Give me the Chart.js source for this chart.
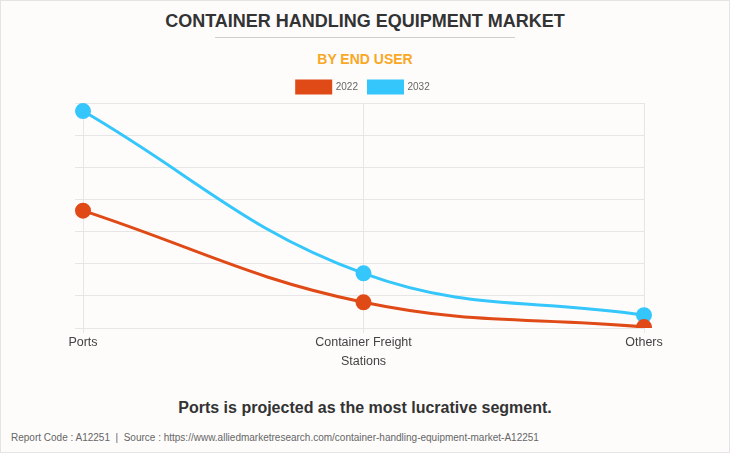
<!DOCTYPE html>
<html>
<head>
<meta charset="utf-8">
<script src="https://cdn.jsdelivr.net/npm/chart.js@4"></script>
<style>
    body { margin: 0; background: #fff; }
    #wrap {
        position: relative; width: 728px; height: 451px;
        background: #fdfcfb; border: 1px solid #e4e4e4;
        font-family: "Liberation Sans", Arial, sans-serif;
    }
    #title {
        position: absolute; top: 10px; left: 0; width: 100%; text-align: center;
        font-size: 18px; font-weight: bold; color: #333;
    }
    #rule { position: absolute; top: 36px; left: 214px; width: 300px; height: 1px; background: #cfcfcf; }
    #subtitle {
        position: absolute; top: 50px; left: 0; width: 100%; text-align: center;
        font-size: 14px; font-weight: bold; color: #f9a825;
    }
    #chartBox { position: absolute; left: 0; top: 75px; width: 730px; height: 305px; }
    #note {
        position: absolute; top: 398px; left: 0; width: 100%; text-align: center;
        font-size: 16px; font-weight: bold; color: #333;
    }
    #source { position: absolute; top: 431px; left: 10px; font-size: 10px; color: #666; }
</style>
</head>
<body>
<div id="wrap">
    <div id="title">CONTAINER HANDLING EQUIPMENT MARKET</div>
    <div id="rule"></div>
    <div id="subtitle">BY END USER</div>
    <div id="chartBox"><canvas id="endUserChart"></canvas></div>
    <div id="note">Ports is projected as the most lucrative segment.</div>
    <div id="source">Report Code : A12251&nbsp; |&nbsp; Source : https://www.alliedmarketresearch.com/container-handling-equipment-market-A12251</div>
</div>
<script>
const categories = [['Ports'], ['Container Freight', 'Stations'], ['Others']];
const values2022 = [3.65, 0.8, 0.03];
const values2032 = [6.75, 1.7, 0.4];

const ctx = document.getElementById('endUserChart').getContext('2d');
new Chart(ctx, {
    type: 'line',
    data: {
        labels: categories,
        datasets: [
            {
                label: '2022',
                data: values2022,
                borderColor: '#e04a17',
                backgroundColor: '#e04a17',
                borderWidth: 3,
                pointRadius: 6.5,
                pointHoverRadius: 6.5,
                tension: 0.4,
                fill: false,
            },
            {
                label: '2032',
                data: values2032,
                borderColor: '#35c6fb',
                backgroundColor: '#35c6fb',
                borderWidth: 3,
                pointRadius: 6.5,
                pointHoverRadius: 6.5,
                tension: 0.4,
                fill: false,
            }
        ]
    },
    options: {
        responsive: true,
        maintainAspectRatio: false,
        animation: false,
        layout: { padding: 0 },
        plugins: {
            tooltip: { enabled: false },
            legend: {
                labels: {
                    boxWidth: 34,
                    boxHeight: 12,
                    padding: 5,
                    color: '#666',
                    font: { family: 'Liberation Sans', size: 10 },
                    // a bit of extra space after each label, like the original
                    generateLabels: chart => Chart.defaults.plugins.legend.labels.generateLabels(chart)
                        .map(item => ({ ...item, text: item.text + '  ' }))
                }
            }
        },
        scales: {
            x: {
                grid: { color: '#e6e6e6', tickLength: 5 },
                border: { display: false },
                ticks: {
                    color: '#444',
                    padding: 0,
                    maxRotation: 0,
                    font: { family: 'Liberation Sans', size: 12.5, lineHeight: 1.5 },
                },
                afterFit: scale => { scale.height = 53; }
            },
            y: {
                min: 0,
                max: 7,
                grid: { color: '#e6e6e6', tickLength: 8 },
                border: { display: false },
                ticks: { stepSize: 1, display: false },
                afterFit: scale => { scale.width = 82; }
            },
            // empty right axis, only reserves the space on the right
            yRight: {
                position: 'right',
                min: 0,
                max: 7,
                grid: { display: false },
                border: { display: false },
                ticks: { display: false },
                afterFit: scale => { scale.width = 87; }
            }
        }
    }
});
</script>
</body>
</html>
